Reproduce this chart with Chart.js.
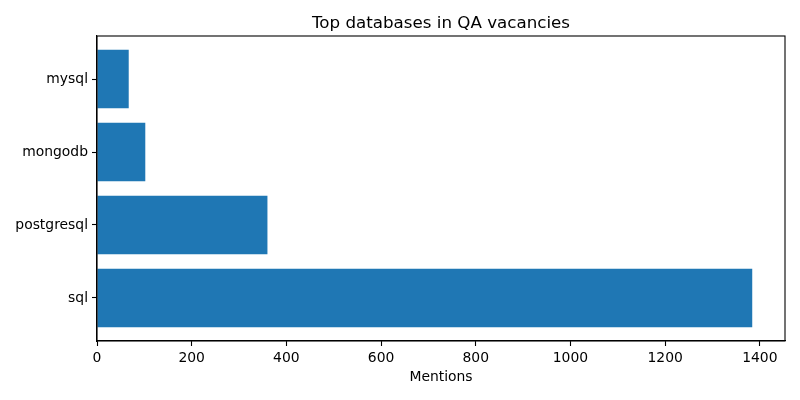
<!DOCTYPE html>
<html>
<head>
<meta charset="utf-8">
<script src="https://cdn.jsdelivr.net/npm/chart.js@4/dist/chart.umd.min.js"></script>
<style>
  html, body { margin: 0; padding: 0; background: #fff; }
  #wrap { width: 800px; height: 400px; }
</style>
</head>
<body>
<div id="wrap"><canvas id="myChart"></canvas></div>
<script>
// data
var chartTitle = 'Top databases in QA vacancies';
var databases = ['sql', 'postgresql', 'mongodb', 'mysql'];
var mentions = [1384, 360, 102, 67];
var xTicks = [0, 200, 400, 600, 800, 1000, 1200, 1400];

var points = [];
for (var i = 0; i < databases.length; i++) {
  points.push({ x: mentions[i], y: i });
}

// matplotlib-like limits: 5% margin
var xMax = Math.max(...mentions) * 1.05;
var yMin = -0.4 - 0.05 * (databases.length - 1 + 0.8);
var yMax = databases.length - 1 + 0.4 + 0.05 * (databases.length - 1 + 0.8);

Chart.defaults.font.family = 'DejaVu Sans';
Chart.defaults.color = '#000';

// box around the plot area + title centred over it
var frame = {
  id: 'frame',
  afterDraw: function(chart) {
    var a = chart.chartArea;
    var ctx = chart.ctx;
    ctx.save();
    ctx.strokeStyle = '#000';
    ctx.lineWidth = 1.1;
    ctx.strokeRect(a.left, a.top, a.right - a.left, a.bottom - a.top);
    ctx.fillStyle = '#000';
    ctx.font = '16.7px "DejaVu Sans"';
    ctx.textAlign = 'center';
    ctx.textBaseline = 'alphabetic';
    ctx.fillText(chartTitle, (a.left + a.right) / 2, a.top - 8);
    ctx.restore();
  }
};

var ctx = document.getElementById('myChart').getContext('2d');
var myChart = new Chart(ctx, {
  type: 'bar',
  data: {
    datasets: [{
      data: points,
      backgroundColor: '#1f77b4',
      borderWidth: 0,
      barPercentage: 0.8,
      categoryPercentage: 1.0
    }]
  },
  options: {
    indexAxis: 'y',
    responsive: true,
    maintainAspectRatio: false,
    animation: false,
    layout: { padding: { left: 0, right: 15, top: 36, bottom: 0 } },
    plugins: {
      legend: { display: false },
      tooltip: { enabled: false },
      title: { display: false }
    },
    scales: {
      x: {
        type: 'linear',
        min: 0,
        max: xMax,
        offset: false,
        afterFit: function(s) { s.height = 59; },
        afterBuildTicks: function(s) {
          s.ticks = xTicks.map(function(v) { return { value: v }; });
        },
        ticks: {
          font: { size: 13.9 },
          padding: 4,
          maxRotation: 0,
          callback: function(v) { return String(v); }
        },
        grid: { display: true, offset: false, drawOnChartArea: false, drawTicks: true, tickLength: 5, color: '#000', tickWidth: 1.1 },
        border: { display: true, color: '#000', width: 1.1 },
        title: {
          display: true,
          text: 'Mentions',
          color: '#000',
          font: { size: 13.9 },
          padding: { top: 4, bottom: 14 }
        }
      },
      y: {
        type: 'linear',
        min: yMin,
        max: yMax,
        offset: false,
        afterFit: function(s) { s.width = 97; },
        afterBuildTicks: function(s) {
          s.ticks = databases.map(function(d, i) { return { value: i }; });
        },
        ticks: {
          font: { size: 13.9 },
          padding: 4,
          callback: function(v) { return databases[v]; }
        },
        grid: { display: true, offset: false, drawOnChartArea: false, drawTicks: true, tickLength: 5, color: '#000', tickWidth: 1.1 },
        border: { display: true, color: '#000', width: 1.1 }
      }
    }
  },
  plugins: [frame]
});
</script>
</body>
</html>
